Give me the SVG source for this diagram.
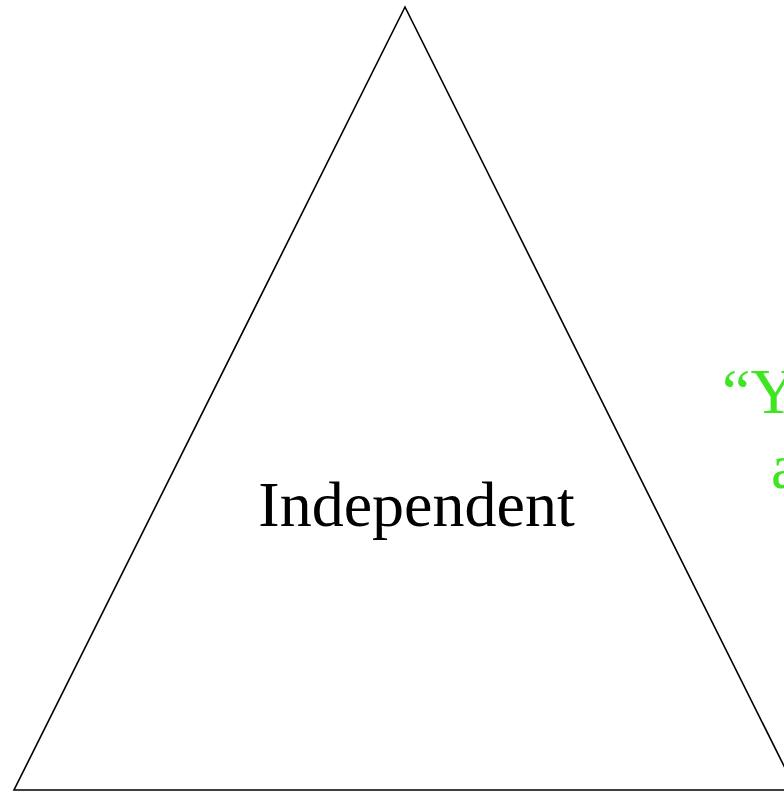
<svg xmlns="http://www.w3.org/2000/svg" width="784" height="793" viewBox="0 0 784 793">
<style>
.serif{font-family:"Liberation Serif","Times New Roman",serif;font-size:64px}
.green{fill:#3ee622}
</style>
<rect width="784" height="793" fill="#ffffff"/>
<g id="triangle">
<polygon points="405,7 14,790 796,790" fill="none" stroke="#000000" stroke-width="1.6"/>
<text class="serif" x="416.5" y="526" text-anchor="middle" fill="#000000">Independent</text>
</g>
<g id="quote">
<text class="serif green" x="722" y="413">“Y</text>
<text class="serif green" x="771" y="488">a</text>
</g>
<g id="connectors"/>
</svg>
